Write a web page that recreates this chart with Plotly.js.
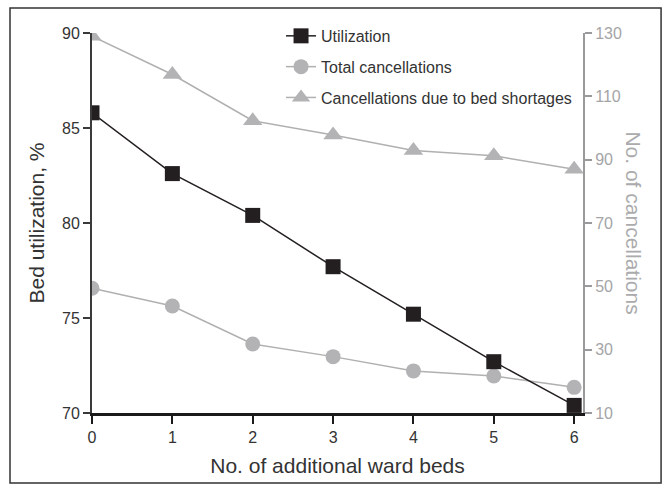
<!DOCTYPE html>
<html>
<head>
<meta charset="utf-8">
<script src="https://cdn.plot.ly/plotly-3.0.1.min.js"></script>
<style>html,body{margin:0;padding:0;background:#fff;}#chart{width:666px;height:484px;}</style>
</head>
<body>
<div id="chart"></div>
<script>
const beds = [0, 1, 2, 3, 4, 5, 6];
const utilization = [85.8, 82.6, 80.4, 77.7, 75.2, 72.7, 70.4];
const totalCancellations = [49.4, 43.8, 31.8, 27.8, 23.3, 21.7, 18.1];
const shortageCancellations = [129.0, 116.9, 102.3, 97.8, 92.9, 91.2, 87.0];
const xTicks = [0, 1, 2, 3, 4, 5, 6];
const leftTicks = [70, 75, 80, 85, 90];
const rightTicks = [10, 30, 50, 70, 90, 110, 130];

const FONT = 'Liberation Sans, Arial, sans-serif';
const GRAY = '#b3b3b6';

const traces = [
  {
    x: beds, y: totalCancellations, yaxis: 'y', name: 'Total cancellations',
    mode: 'lines+markers', legendgroup: 'b', legendrank: 2,
    line: {color: '#b0b0b0', width: 1.5},
    marker: {symbol: 'circle', size: 15, color: GRAY}
  },
  {
    x: beds, y: shortageCancellations, yaxis: 'y', name: 'Cancellations due to bed shortages',
    mode: 'lines+markers', legendgroup: 'c', legendrank: 3,
    line: {color: '#b0b0b0', width: 1.5},
    marker: {symbol: 'triangle-up', size: 17, color: GRAY}
  },
  {
    x: beds, y: utilization, yaxis: 'y2', name: 'Utilization',
    mode: 'lines+markers', legendgroup: 'a', legendrank: 1,
    line: {color: '#231f20', width: 1.5},
    marker: {symbol: 'square', size: 15, color: '#231f20'}
  }
];

const layout = {
  width: 666, height: 484,
  margin: {l: 92, r: 83, t: 33, b: 71},
  paper_bgcolor: '#fff', plot_bgcolor: '#fff',
  font: {family: FONT, size: 16, color: '#333'},
  showlegend: true,
  legend: {
    x: 0.385, y: 1.037, xanchor: 'left', yanchor: 'top',
    bgcolor: 'rgba(0,0,0,0)', traceorder: 'grouped', tracegroupgap: 7,
    font: {family: FONT, size: 16, color: '#333'}
  },
  xaxis: {
    range: [0, 6.11], tickvals: xTicks, ticktext: xTicks.map(String),
    showgrid: false, zeroline: false,
    showline: true, linecolor: '#1a1a1a', linewidth: 3,
    ticks: 'outside', ticklen: 8, tickwidth: 2, tickcolor: '#1a1a1a',
    tickfont: {family: FONT, size: 16, color: '#333'},
    title: {text: 'No. of additional ward beds', font: {family: FONT, size: 21, color: '#333'}, standoff: 14}
  },
  yaxis: {
    range: [10, 130], side: 'right', tickvals: rightTicks,
    showgrid: false, zeroline: false,
    showline: true, linecolor: '#9a9a9c', linewidth: 2,
    ticks: 'outside', ticklen: 7, tickwidth: 2, tickcolor: '#9a9a9c',
    tickfont: {family: FONT, size: 16, color: '#a5a5a7'}
  },
  yaxis2: {
    range: [70, 90], side: 'left', overlaying: 'y', tickvals: leftTicks,
    showgrid: false, zeroline: false,
    showline: true, linecolor: '#3a3a3a', linewidth: 2,
    ticks: 'outside', ticklen: 7, tickwidth: 2, tickcolor: '#3a3a3a',
    tickfont: {family: FONT, size: 16, color: '#333'},
    title: {text: 'Bed utilization, %', font: {family: FONT, size: 21, color: '#333'}, standoff: 12}
  },
  annotations: [{
    text: 'No. of cancellations', xref: 'paper', yref: 'paper',
    x: 1.103, y: 0.5, xanchor: 'center', yanchor: 'middle', textangle: 90,
    showarrow: false, font: {family: FONT, size: 21, color: '#ababad'}
  }],
  shapes: [{
    type: 'rect', xref: 'paper', yref: 'paper',
    x0: -0.167, x1: 1.159, y0: -0.184, y1: 1.066,
    line: {color: '#333', width: 1.5}, fillcolor: 'rgba(0,0,0,0)'
  }]
};

Plotly.newPlot('chart', traces, layout, {displayModeBar: false, staticPlot: true});
</script>
</body>
</html>
